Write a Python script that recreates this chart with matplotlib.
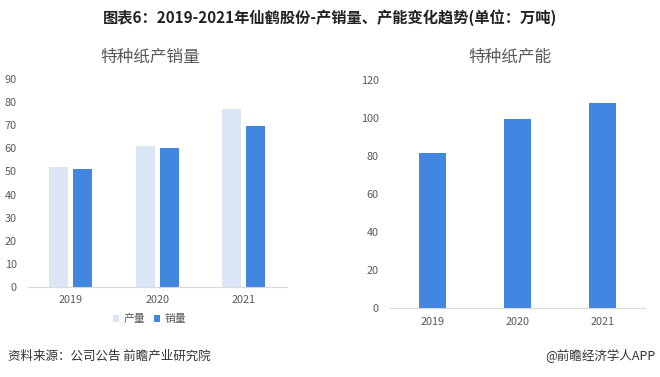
import matplotlib
matplotlib.use("Agg")
import matplotlib.pyplot as plt
import numpy as np

plt.rcParams['font.family'] = ['Noto Sans CJK SC', 'DejaVu Sans']

years = ["2019", "2020", "2021"]
production = [52.1, 61.2, 77.3]
sales = [51.0, 60.1, 69.8]
capacity = [81.6, 99.7, 107.7]

title = "图表6：2019-2021年仙鹤股份-产销量、产能变化趋势(单位：万吨)"
left_title = "特种纸产销量"
right_title = "特种纸产能"
source = "资料来源：公司公告 前瞻产业研究院"
credit = "@前瞻经济学人APP"

light = "#DAE5F6"
dark = "#4186E0"
tick_color = "#595959"
axis_color = "#D9D9D9"

fig = plt.figure(figsize=(6.6, 3.77), dpi=100)
fig.patch.set_facecolor("white")

def style(ax, ymax, step):
    ax.set_ylim(0, ymax)
    ax.set_yticks(np.arange(0, ymax + 1, step))
    ax.set_xlim(-0.5, 2.5)
    for s in ["top", "right", "left"]:
        ax.spines[s].set_visible(False)
    ax.spines["bottom"].set_color(axis_color)
    ax.tick_params(axis="both", length=0, labelsize=7.8, colors=tick_color)
    ax.tick_params(axis="x", pad=6)
    ax.tick_params(axis="y", pad=8)

# left chart
ax1 = fig.add_axes([0.042, 0.2395, 0.393, 0.5502])
x = np.arange(len(years))
ax1.bar(x - 0.139, production, width=0.22, color=light, label="产量")
ax1.bar(x + 0.139, sales, width=0.22, color=dark, label="销量")
ax1.set_xticks(x)
ax1.set_xticklabels(years)
style(ax1, 90, 10)
leg = ax1.legend(loc="upper center", bbox_to_anchor=(0.47, -0.085), ncol=2, frameon=False,
                 fontsize=7.8, handlelength=0.6, handleheight=0.6, handletextpad=0.4,
                 columnspacing=0.8)
for t in leg.get_texts():
    t.set_color(tick_color)

# right chart
ax2 = fig.add_axes([0.591, 0.182, 0.386, 0.606])
ax2.bar(x, capacity, width=0.31, color=dark)
ax2.set_xticks(x)
ax2.set_xticklabels(years)
style(ax2, 120, 20)

fig.text(0.5, 1 - 18 / 377, title, ha="center", va="center", fontsize=11, fontweight="bold", color="#222222")
fig.text(150 / 660, 1 - 57 / 377, left_title, ha="center", va="center", fontsize=12, color=tick_color)
fig.text(510 / 660, 1 - 57 / 377, right_title, ha="center", va="center", fontsize=12, color=tick_color)
fig.text(8 / 660, 1 - 356 / 377, source, ha="left", va="center", fontsize=9, color="#333333")
fig.text(655 / 660, 1 - 356 / 377, credit, ha="right", va="center", fontsize=9, color="#333333")

fig.savefig("out.png", dpi=100)
